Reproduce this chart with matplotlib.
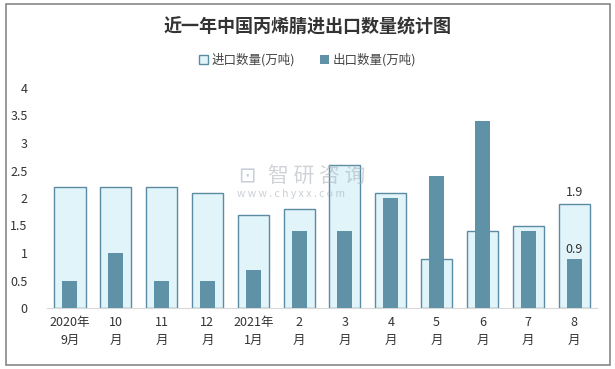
import matplotlib
matplotlib.use("Agg")
import matplotlib.pyplot as plt
from matplotlib.patches import Rectangle
import numpy as np

plt.rcParams['font.family'] = ['Noto Sans CJK SC', 'DejaVu Sans']

categories = ["2020年\n9月", "10\n月", "11\n月", "12\n月", "2021年\n1月", "2\n月",
              "3\n月", "4\n月", "5\n月", "6\n月", "7\n月", "8\n月"]
imports = [2.2, 2.2, 2.2, 2.1, 1.7, 1.8, 2.6, 2.1, 0.9, 1.4, 1.5, 1.9]
exports = [0.5, 1.0, 0.5, 0.5, 0.7, 1.4, 1.4, 2.0, 2.4, 3.4, 1.4, 0.9]
yticks = [0, 0.5, 1, 1.5, 2, 2.5, 3, 3.5, 4]
ytick_labels = ["0", "0.5", "1", "1.5", "2", "2.5", "3", "3.5", "4"]

fig = plt.figure(figsize=(6.15, 3.69), dpi=100)
fig.patches.append(Rectangle((0.01, 0.01), 0.982, 0.98, transform=fig.transFigure,
                             fill=False, edgecolor='#888888', linewidth=1.2))
ax = fig.add_axes([47/615, 1-308/369, 550/615, 220/369])

x = np.arange(len(categories))
ax.bar(x, imports, width=0.68, color='#E1F4FA', edgecolor='#5B8BA3', linewidth=1.0,
       label='进口数量(万吨)', zorder=2)
ax.bar(x, exports, width=0.33, color='#5F91A7', label='出口数量(万吨)', zorder=3)

ax.text(x[-1], imports[-1] + 0.08, "1.9", ha='center', va='bottom', fontsize=9, color='#333333')
ax.text(x[-1], exports[-1] + 0.05, "0.9", ha='center', va='bottom', fontsize=9, color='#333333', zorder=4)

ax.set_xlim(-0.5, len(categories) - 0.5)
ax.set_ylim(0, 4)
ax.set_yticks(yticks)
ax.set_yticklabels(ytick_labels, fontsize=9, color='#333333')
ax.set_xticks(x)
ax.set_xticklabels(categories, fontsize=9, color='#333333', linespacing=1.5)
ax.tick_params(axis='both', length=0)
ax.tick_params(axis='y', pad=14)
ax.tick_params(axis='x', pad=6)
for s in ['top', 'right', 'left']:
    ax.spines[s].set_visible(False)
ax.spines['bottom'].set_color('#D9D9D9')

fig.text(0.5, 1-27/369, "近一年中国丙烯腈进出口数量统计图", ha='center', va='center',
         fontsize=13, fontweight='bold', color='#333333')
leg = fig.legend(loc='center', bbox_to_anchor=(0.5, 1-60/369), ncol=2, frameon=False,
                 fontsize=9, handlelength=0.7, handleheight=0.7, handletextpad=0.3,
                 columnspacing=2.0)
for t in leg.get_texts():
    t.set_color('#444444')

# watermark
fig.text(238/615, 1-176/369, "⊡", fontsize=15, color='#9AA8B8', alpha=0.55,
         ha='left', va='center', family=['DejaVu Sans'], zorder=10)
fig.text(268/615, 1-176/369, "智 研 咨 询", fontsize=15, color='#A8B0B8', alpha=0.55,
         ha='left', va='center', zorder=10)
fig.text(237/615, 1-194/369, "w w w . c h y x x . c o m", fontsize=7.5, color='#A8B0B8', alpha=0.6,
         ha='left', va='center', zorder=10)

fig.savefig("out.png", dpi=100)
